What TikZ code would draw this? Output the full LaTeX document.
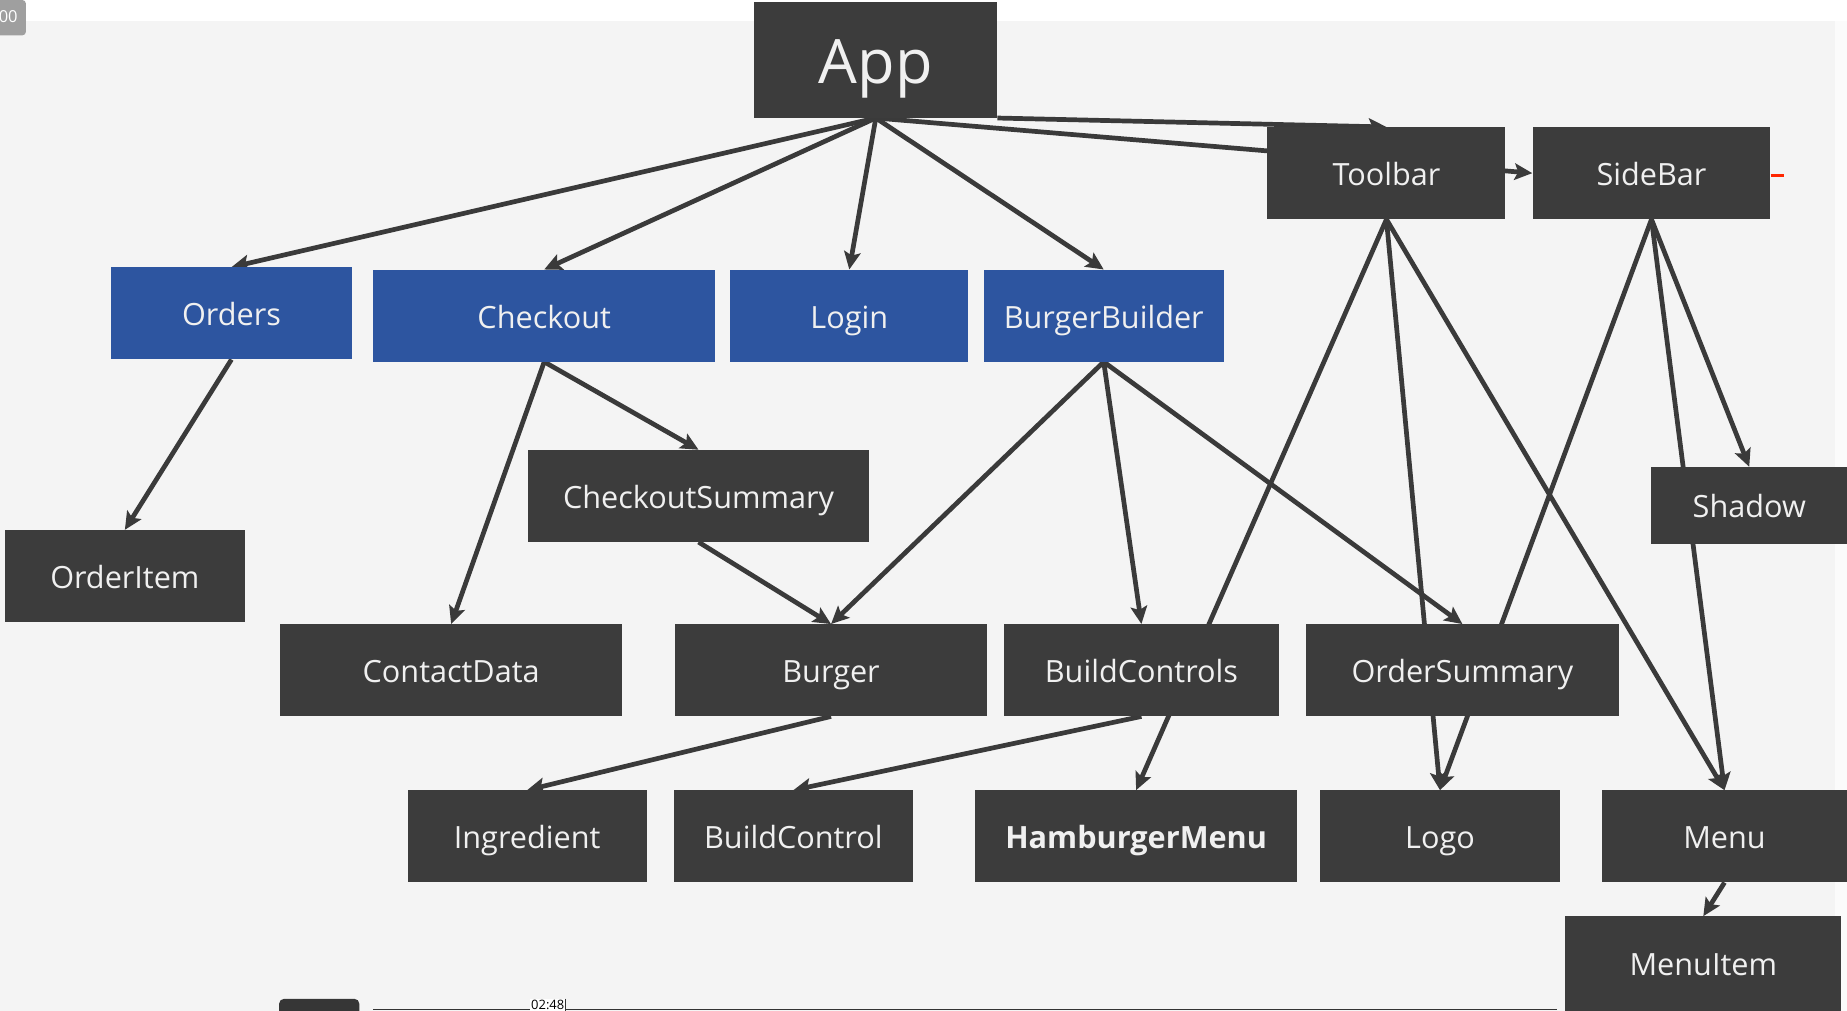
\documentclass[tikz,border=0pt]{standalone}
\usepackage{fontspec}
\setmainfont{Open Sans}
\usetikzlibrary{arrows.meta}
\definecolor{boxgray}{HTML}{3C3C3C}
\definecolor{boxblue}{HTML}{2D55A0}
\definecolor{linegray}{HTML}{3A3A3A}
\definecolor{bggray}{HTML}{F4F4F4}
\pgfdeclarelayer{background}
\pgfsetlayers{background,main}

\begin{document}
\begin{tikzpicture}[x=1pt,y=-1pt,
    comp/.style={fill=boxgray,text=white!94!black,minimum height=78pt,inner sep=0pt,
      text height=23pt,text depth=2pt,font=\fontsize{26}{30}\selectfont},
    route/.style={comp,fill=boxblue},
    link/.style={draw=linegray,line width=4pt,-{Stealth[length=15pt,width=14pt,inset=3pt]}}]
    \useasboundingbox (0,0) rectangle (1568,858);
    % top level
    \node[comp,minimum width=206pt,minimum height=98pt,text height=44pt,text depth=5pt,
      font=\fontsize{52}{56}\selectfont] (App) at (743.5,51) {App};
    \node[comp,minimum width=202pt] (Toolbar) at (1177,147) {Toolbar};
    \node[comp,minimum width=202pt] (SideBar) at (1402,147) {SideBar};
    % routed containers
    \node[route,minimum width=204pt] (Orders) at (196.5,266) {Orders};
    \node[route,minimum width=290pt] (Checkout) at (462,268) {Checkout};
    \node[route,minimum width=202pt] (Login) at (721,268) {Login};
    \node[route,minimum width=204pt] (BurgerBuilder) at (937,268) {BurgerBuilder};
    % components
    \node[comp,minimum width=290pt] (CheckoutSummary) at (593,421) {CheckoutSummary};
    \node[comp,minimum width=204pt] (OrderItem) at (106,489) {OrderItem};
    \node[comp,minimum width=166pt,minimum height=65pt] (Shadow) at (1485,429) {Shadow};
    \node[comp,minimum width=290pt] (ContactData) at (383,569) {ContactData};
    \node[comp,minimum width=265pt] (Burger) at (705.5,569) {Burger};
    \node[comp,minimum width=234pt] (BuildControls) at (969,569) {BuildControls};
    \node[comp,minimum width=265pt] (OrderSummary) at (1241.5,569) {OrderSummary};
    \node[comp,minimum width=203pt] (Ingredient) at (447.5,710) {Ingredient};
    \node[comp,minimum width=203pt] (BuildControl) at (673.5,710) {BuildControl};
    \node[comp,minimum width=273pt,font=\fontsize{26}{30}\selectfont\bfseries] (HamburgerMenu) at (964.5,710) {HamburgerMenu};
    \node[comp,minimum width=203pt] (Logo) at (1222.5,710) {Logo};
    \node[comp,minimum width=208pt] (Menu) at (1464,710) {Menu};
    \node[comp,minimum width=234pt,minimum height=80pt] (MenuItem) at (1446,818) {MenuItem};
    % video overlay
    \fill[gray!75,rounded corners=3pt] (-8,0) rectangle (22,30);
    \node[text=white,font=\fontsize{14}{16}\selectfont] (badge) at (7,14) {00};
    \fill[boxgray!90!black,rounded corners=4pt] (237,848) rectangle (305,868);
    \coordinate (barstart) at (317,857);
    \coordinate (barend) at (1322,857);
    \draw[black!80,line width=1pt] (barstart) -- (barend);
    \node[fill=white,inner sep=1pt,font=\fontsize{11}{12}\selectfont] (time) at (465,853) {02:48};
    \draw[black!80,line width=0.8pt] (time.north east) -- (time.south east);
    \begin{pgfonlayer}{background}
        \fill[bggray] (0,18) rectangle (1558,858);
        \fill[bggray!40!white] (1558,18) rectangle (1568,858);
        \draw[link] (App.south) -- (Orders.north);
        \draw[link] (App.south) -- (Checkout.north);
        \draw[link] (App.south) -- (Login.north);
        \draw[link] (App.south) -- (BurgerBuilder.north);
        \draw[link] (App.south east) -- (Toolbar.north);
        \draw[link] (App.south) -- (SideBar.west);
        \draw[link] (Orders.south) -- (OrderItem.north);
        \draw[link] (Checkout.south) -- (ContactData.north);
        \draw[link] (Checkout.south) -- (CheckoutSummary.north);
        \draw[link] (CheckoutSummary.south) -- (Burger.north);
        \draw[link] (BurgerBuilder.south) -- (Burger.north);
        \draw[link] (BurgerBuilder.south) -- (BuildControls.north);
        \draw[link] (BurgerBuilder.south) -- (OrderSummary.north);
        \draw[link] (Toolbar.south) -- (HamburgerMenu.north);
        \draw[link] (Toolbar.south) -- (Logo.north);
        \draw[link] (Toolbar.south) -- (Menu.north);
        \draw[link] (SideBar.south) -- (Shadow.north);
        \draw[link] (SideBar.south) -- (Logo.north);
        \draw[link] (SideBar.south) -- (Menu.north);
        \draw[link] (Burger.south) -- (Ingredient.north);
        \draw[link] (BuildControls.south) -- (BuildControl.north);
        \draw[link] (Menu.south) -- (MenuItem.north);
        \draw[red!70!orange,line width=2pt] ([yshift=-2pt]SideBar.east) -- ++(11,0);
    \end{pgfonlayer}
\end{tikzpicture}
\end{document}
